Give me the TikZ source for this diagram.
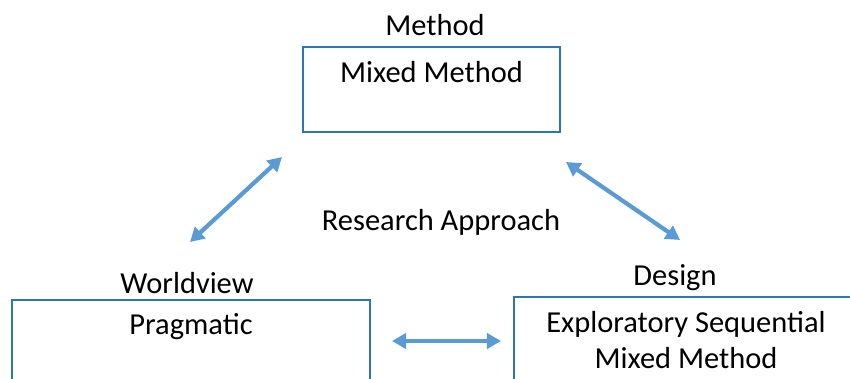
\documentclass[tikz,border=0pt]{standalone}
\usepackage{fontspec}
\setmainfont{Carlito}
\usepackage{tikz}
\usetikzlibrary{arrows.meta,positioning}
\definecolor{boxline}{HTML}{2E75B6}
\definecolor{arrowblue}{HTML}{5B9BD5}

\begin{document}
\begin{tikzpicture}[
    x=0.03cm, y=-0.03cm,
    box/.style={rectangle, draw=boxline, line width=1.1pt, fill=white, inner sep=0pt},
    txt/.style={font=\fontsize{26}{30}\selectfont, inner sep=0pt, align=center},
    link/.style={{Triangle[length=12pt,width=13pt]}-{Triangle[length=12pt,width=13pt]}, line width=3.6pt, arrowblue}
]
\useasboundingbox (0,0) rectangle (850,378);
\clip (0,0) rectangle (850,378);

\node[box, minimum width=257*0.03cm, minimum height=85*0.03cm] (method) at (431.5,89.5) {};
\node[box, minimum width=358*0.03cm, minimum height=110*0.03cm] (world) at (191,355) {};
\node[box, minimum width=356*0.03cm, minimum height=110*0.03cm] (design) at (692,352) {};

\node[txt] (method-lbl) at (435,25) {Method};
\node[txt] (world-lbl) at (187,283) {Worldview};
\node[txt] (design-lbl) at (675,278) {Design};
\node[txt] (approach) at (441,222) {Research Approach};

\node[txt] (method-txt) at (431.5,72) {Mixed Method};
\node[txt] (world-txt) at (191,327) {Pragmatic};
\node[txt] (design-txt) at (686,340) {Exploratory Sequential\\Mixed Method};

\coordinate (a1) at (190,242);
\coordinate (a2) at (282,157);
\coordinate (b1) at (566,162);
\coordinate (b2) at (680,240);
\coordinate (c1) at (392,341);
\coordinate (c2) at (501,341);

\draw[link] (a1) -- (a2);
\draw[link] (b1) -- (b2);
\draw[link] (c1) -- (c2);

\end{tikzpicture}
\end{document}
